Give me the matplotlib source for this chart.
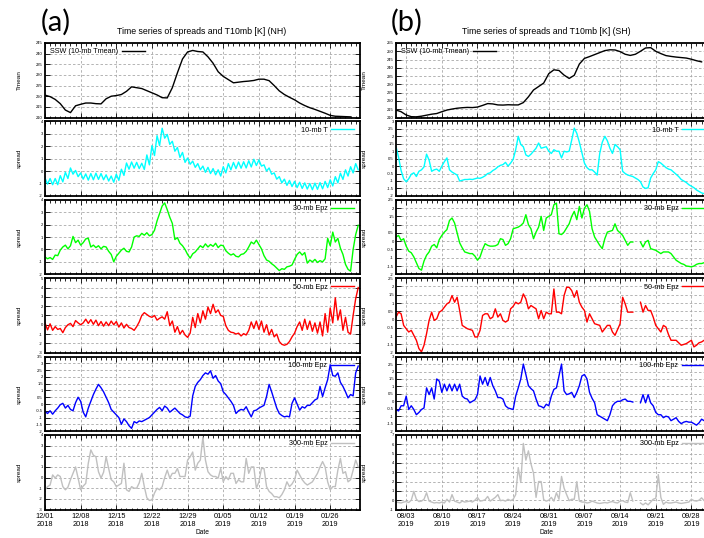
import numpy as np
import pandas as pd
import matplotlib
matplotlib.use("Agg")
import matplotlib.pyplot as plt
import matplotlib.dates as mdates
from matplotlib.ticker import MultipleLocator, FormatStrFormatter
from matplotlib.lines import Line2D

plt.rcParams['font.family'] = ['Liberation Sans', 'DejaVu Sans']

nan = np.nan
# ---------------- NH (left column), start 2018-12-01 ----------------
nh_tmean = [220.5, 219.8, 218.5, 216.5, 213.5, 212.3, 215.5, 216.2, 216.8, 216.8,
            216.5, 216.4, 218.8, 220.0, 220.3, 220.8, 222.3, 224.4, 224.0, 223.6,
            222.6, 221.6, 220.6, 219.3, 219.2, 224.0, 231.0, 237.5, 240.8, 241.5,
            241.0, 240.8, 238.5, 235.5, 231.5, 229.3, 227.8, 226.3, 226.6, 226.9,
            227.1, 227.4, 228.0, 228.0, 227.3, 225.0, 222.5, 220.8, 219.5, 218.3,
            216.8, 215.6, 214.6, 213.8, 212.9, 212.0, 211.0, 210.6, 210.5, 210.4, 210.3]

nh_t10 = [-0.55, -1.05, -0.6, -1.1, -0.6, -1.1, -0.37, -0.87, -0.1, -0.6,
          0.25, -0.25, 0.05, -0.45, -0.15, -0.65, -0.23, -0.73, -0.2, -0.7,
          -0.17, -0.67, -0.2, -0.7, -0.3, -0.8, -0.4, -0.9, -0.25, -0.75,
          0.15, -0.35, 0.65, 0.15, 0.73, 0.23, 0.7, 0.2, 0.63, 0.13,
          1.3, 0.5, 2.05, 1.25, 2.85, 2.05, 3.45, 2.65, 2.95, 2.15,
          2.4, 1.6, 1.9, 1.1, 1.5, 0.7, 1.05, 0.55, 0.8, 0.3,
          0.6, 0.1, 0.4, -0.1, 0.3, -0.2, 0.2, -0.3, 0.1, -0.4,
          0.35, -0.15, 0.6, 0.1, 0.7, 0.2, 0.73, 0.23, 0.75, 0.25,
          0.83, 0.33, 0.95, 0.45, 0.9, 0.4, 0.5, 0.0, 0.25, -0.25,
          -0.15, -0.65, -0.45, -0.95, -0.65, -1.15, -0.75, -1.25, -0.83, -1.33,
          -0.9, -1.4, -0.95, -1.45, -1.0, -1.5, -0.97, -1.47, -0.93, -1.43,
          -0.83, -1.33, -0.7, -1.2, -0.45, -0.95, -0.17, -0.67, 0.1, -0.4,
          0.35, -0.15, 0.6, 0.1]

nh_e30 = [-0.6, -0.75, -0.65, -0.8, -0.45, -0.5, -0.05, 0.2, 0.35, 0.05,
          0.3, 1.05, 0.55, 0.75, 0.35, 0.55, 0.85, 0.9, 0.2, 0.35,
          0.15, 0.3, 0.05, 0.25, 0.2, -0.15, -0.4, -1.0, -0.55, -0.3,
          -0.05, 0.1, -0.15, -0.2, 0.2, 1.0, 1.1, 1.05, 1.3, 1.15,
          1.35, 1.1, 1.2, 1.55, 2.3, 2.9, 3.5, 3.75, 3.2, 2.6,
          2.1, 0.8, 0.95, 0.5, 0.3, 0.0, -0.4, -0.7, -0.35, -0.2,
          0.05, 0.3, 0.15, 0.45, 0.2, 0.4, 0.25, 0.5, 0.15, 0.35,
          0.3, -0.1, -0.3, -0.45, -0.35, -0.55, -0.6, -0.4, -0.35, -0.15,
          0.2, 0.6, 0.45, 0.75, 0.4, 0.05, -0.5, -0.85, -0.95, -1.15,
          -1.3, -1.5, -1.7, -1.55, -1.6, -1.4, -1.35, -1.25, -0.8, -0.4,
          -0.2, -0.45, -0.25, -1.1, -0.85, -1.0, -0.8, -1.05, -0.9, -1.0,
          -0.75, 0.9, 0.3, 1.4, 0.6, 0.9, 0.1, -0.4, -1.2, -1.6,
          -1.75, 0.0, 1.2, 1.95]

nh_e50 = [0.2, -0.55, 0.1, -0.6, -0.2, -0.5, -0.4, -0.85, -0.3, 0.0,
          0.15, -0.2, 0.45, 0.2, 0.0, 0.2, 0.6, 0.15, 0.55, 0.05,
          0.5, -0.1, 0.35, -0.15, 0.3, -0.1, 0.4, 0.0, 0.35, -0.25,
          0.2, -0.35, 0.05, -0.3, -0.4, -0.6, -0.2, 0.3, 1.0, 1.3,
          1.1, 0.9, 0.8, 1.0, 0.5, 0.7, 0.85, 0.6, 1.4, -0.1,
          0.4, -0.8, -0.2, -1.0, -0.6, -1.1, -1.35, -0.9, 0.8, -0.3,
          1.2, 0.2, 1.5, 0.6, 1.9, 1.2, 2.2, 1.3, 1.6, 1.0,
          0.9, -0.1, -0.6, -0.8, -0.85, -1.0, -0.9, -1.2, -0.95, -1.1,
          -0.6, 0.3, -0.4, 0.4, -0.5, 0.4, -0.8, 0.0, -1.1, -0.5,
          -1.3, -1.0, -1.8, -2.1, -2.2, -2.1, -1.8, -1.3, -0.9, -0.2,
          0.3, -0.6, 0.6, -0.5, 0.4, -0.7, 0.2, -0.9, 0.3, -1.2,
          1.2, -0.8, 1.8, 0.2, 2.9, 0.5, 1.6, -0.6, 0.8, -0.8,
          -1.0, 1.0, 2.8, 4.0]

nh_e100 = [-0.55, -0.7, -0.5, -0.75, -0.5, -0.3, -0.05, 0.05, -0.3, -0.1,
           -0.4, -0.5, 0.1, 0.5, 0.2, -0.6, -0.95, -0.3, 0.2, 0.7,
           1.1, 1.45, 1.2, 0.9, 0.5, 0.1, -0.4, -0.6, -0.8, -1.0,
           -1.5, -1.1, -1.3, -1.6, -1.8, -1.3, -1.4, -1.25, -1.3, -1.2,
           -1.1, -1.0, -0.8, -0.6, -0.4, -0.25, -0.5, -0.15, -0.3, -0.6,
           -0.45, -0.3, -0.5, -0.7, -0.8, -0.95, -1.0, -0.9, 0.6, 1.3,
           1.6, 1.8, 2.1, 2.3, 2.2, 2.45, 1.9, 2.1, 1.7, 1.5,
           0.9, 0.7, 0.45, 0.2, -0.1, -0.7, -0.5, -0.4, -0.45, -0.2,
           -0.6, -0.95, -0.5, -0.45, -0.3, -0.2, -0.1, 0.55, 1.45, 0.9,
           0.3, -0.3, -0.7, -0.85, -0.95, -0.9, -0.95, 0.05, 0.45, 0.0,
           -0.45, -0.2, -0.3, -0.1, -0.1, 0.1, 0.3, 0.4, 1.3, 0.55,
           1.2, 1.8, 2.9, 2.1, 2.05, 2.3, 1.6, 1.3, 0.9, 0.45,
           0.7, 0.6, 2.3, 2.8]

nh_e300 = [-1.15, -0.85, -0.7, 0.25, -0.05, 0.25, 0.1, -0.85, -1.15, -0.9,
           -0.2, 0.4, 1.0, -0.05, -1.15, -0.8, -0.55, 1.35, 2.6, 2.1,
           1.95, 0.55, -0.05, 0.5, 1.95, 0.85, -0.2, -0.4, -0.85, -0.7,
           -0.55, 1.35, -1.15, -1.3, -0.85, -1.0, -1.0, -0.5, 0.4, -0.85,
           -1.9, -2.15, -2.1, -1.45, -1.0, -1.15, -0.85, 0.0, 0.7, -0.05,
           0.4, 0.4, 0.85, 0.1, 0.1, 0.1, 1.65, 1.95, 2.4, 0.7,
           1.35, 1.65, 3.8, 1.65, 0.55, 0.25, 0.1, 0.1, -0.05, 0.85,
           -0.4, 0.1, -0.2, 0.4, 0.4, -0.55, -0.2, -0.4, -0.4, 1.8,
           0.4, 1.0, 1.0, -1.0, -0.4, 0.85, 0.85, -0.85, -1.3, -1.5,
           -1.8, -1.8, -1.9, -1.6, -1.15, -0.4, -0.85, -0.6, -0.2, 0.7,
           0.25, -0.2, -0.5, -0.7, -0.55, -0.4, 0.0, 0.4, 1.0, 1.5,
           1.0, -0.4, -1.15, -0.85, -0.85, 0.7, 1.8, 0.4, 0.55, -0.4,
           -0.2, 0.7, 1.65, 1.0]

# ---------------- SH (right column), start 2019-08-01 ----------------
sh_tmean = [214.5, 213.5, 211.5, 210.5, 210.4, 210.8, 211.4, 212.0, 212.4, 213.5,
            214.5, 215.1, 215.6, 215.9, 216.1, 216.0, 216.3, 217.3, 218.4, 218.2,
            217.6, 217.5, 217.7, 217.6, 217.6, 219.0, 222.5, 226.6, 228.7, 230.8,
            236.5, 238.8, 238.4, 235.6, 233.6, 235.5, 242.3, 245.7, 246.8, 248.0,
            249.2, 250.4, 250.9, 250.8, 249.8, 248.2, 247.5, 248.2, 250.0, 252.0,
            252.2, 250.0, 248.6, 247.4, 246.9, 246.5, 246.2, 245.9, 245.2, 244.3, 243.6]

sh_t10 = [1.3, 0.6, -0.3, -0.85, -1.05, -0.85, -0.55, -0.45, -0.7, -0.35,
          -0.25, -0.05, 0.8, 0.4, -0.35, -0.25, -0.2, -0.35, 0.0, 0.3,
          0.55, -0.25, -0.4, -0.5, -0.6, -1.0, -0.95, -0.9, -0.9, -0.88,
          -0.9, -0.85, -0.8, -0.82, -0.75, -0.65, -0.5, -0.45, -0.3, -0.2,
          -0.05, 0.05, 0.1, 0.25, 0.0, 0.2, 0.45, 1.1, 2.0, 1.45,
          1.3, 0.75, 0.65, 0.8, 1.0, 1.2, 1.55, 1.2, 1.25, 1.3,
          1.0, 0.85, 1.1, 1.0, 1.0, 0.55, 1.0, 0.95, 1.0, 1.75,
          2.55, 2.2, 1.6, 0.9, 0.2, -0.1, -0.25, -0.25, -0.4, -0.6,
          0.85, 1.6, 2.0, 1.7, 1.2, 0.85, 1.45, 1.3, 1.1, -0.35,
          -0.5, -0.6, -0.65, -0.7, -0.8, -0.9, -1.05, -1.4, -1.5, -1.45,
          -0.8, -0.5, -0.25, 0.3, 0.2, 0.05, -0.1, -0.2, -0.25, -0.4,
          -0.55, -0.7, -0.9, -1.0, -1.1, -1.25, -1.35, -1.45, -1.6, -1.7,
          -1.8, -1.85]

sh_e30 = [0.25, 0.35, 0.05, 0.15, -0.3, -0.6, -0.7, -0.95, -1.3, -1.65,
          -1.75, -1.2, -0.85, -0.65, -0.3, -0.2, -0.4, 0.1, 0.35, 0.55,
          0.7, 1.25, 1.4, 1.1, 0.5, -0.1, -0.4, -0.65, -0.7, -0.75,
          -0.75, -0.9, -1.15, -0.95, -0.5, -0.15, -0.25, -0.3, -0.3, -0.28,
          -0.2, 0.15, 0.1, -0.25, -0.15, 0.15, 0.75, 0.8, 0.85, 0.95,
          1.1, 1.6, 1.0, 0.75, 0.15, 0.55, 0.85, 1.5, 0.65, 1.4,
          1.5, 1.6, 2.2, 2.3, 0.45, 0.4, 0.55, 0.8, 1.05, 1.5,
          1.8, 1.3, 2.1, 1.4, 2.0, 2.2, 1.8, 0.75, 0.25, 0.0,
          -0.25, -0.45, 0.15, 0.55, 0.6, 0.65, 1.05, 0.65, 0.5, 0.35,
          0.05, -0.25, -0.05, -0.05, nan, nan, -0.05, -0.35, -0.05, 0.05,
          -0.45, -0.5, -0.55, -0.65, -0.75, -0.65, -0.65, -0.65, -0.75, -0.95,
          -1.15, -1.25, -1.35, -1.4, -1.5, -1.52, -1.55, -1.5, -1.4, -1.35,
          -1.35, -1.3]

sh_e50 = [0.15, 0.45, 0.35, -0.35, -0.55, -0.75, -0.65, -0.95, -1.25, -1.75,
          -1.95, -1.55, -0.85, -0.05, 0.45, -0.05, 0.05, 0.45, 0.55, 0.75,
          0.95, 1.05, 1.45, 1.05, 1.35, 0.55, -0.35, -0.45, -0.55, -0.6,
          -0.65, -1.05, -1.05, -0.65, 0.25, 0.35, 0.35, 0.05, 0.15, 0.65,
          0.15, 0.35, -0.05, -0.15, -0.05, 0.65, 0.8, 1.05, 0.95, 1.05,
          1.55, 1.25, 0.65, 0.85, 0.75, 0.65, 0.05, 0.55, 0.05, 0.45,
          0.35, 0.35, 1.85, 0.45, 0.45, 0.35, 1.45, 1.95, 1.95, 1.75,
          1.35, 1.75, 1.05, 0.75, 0.55, -0.15, 0.35, 0.05, -0.25, -0.3,
          -0.35, -0.75, -0.55, -0.35, -0.35, -0.75, -0.95, -0.6, -0.25, 1.35,
          0.95, 0.45, 0.45, 0.45, nan, nan, 1.05, 0.45, 0.85, 0.55,
          0.55, 0.15, -0.35, -0.55, -0.75, -0.35, -0.45, -0.9, -1.25, -1.25,
          -1.25, -1.4, -1.55, -1.5, -1.45, -1.35, -1.25, -1.65, -1.55, -1.4,
          -1.35, -1.25]

sh_e100 = [-0.55, -0.65, -0.3, -0.3, 0.35, -0.55, -0.3, -0.55, -0.9, -0.75,
           -0.55, -0.45, 0.9, 0.45, 0.9, 0.15, 1.5, 1.35, 0.6, 1.15,
           0.7, 1.15, 0.7, 1.15, 0.7, 1.15, 0.35, 0.2, 0.15, -0.1,
           0.0, 0.1, 0.45, 1.7, 1.15, 1.6, 1.05, 1.6, 1.05, 0.7,
           0.25, 0.25, 0.15, -0.3, -0.45, -0.5, -0.55, 0.35, 0.9, 1.5,
           2.5, 1.8, 1.05, 0.85, 0.7, 0.15, -0.3, -0.35, -0.45, -0.2,
           -0.3, 0.35, 0.8, 0.9, 1.7, 2.5, 0.7, 0.45, 0.5, 0.6,
           0.25, 0.6, 1.05, 1.7, 1.8, 1.5, 0.6, 0.2, -0.1, -0.9,
           -1.0, -1.1, -1.2, -1.3, -0.9, -0.3, -0.1, 0.0, 0.0, 0.1,
           0.15, 0.0, 0.0, -0.05, nan, nan, -0.1, 0.45, -0.1, 0.45,
           -0.1, -0.3, -0.75, -0.9, -0.9, -1.1, -1.0, -1.05, -1.3, -1.2,
           -1.1, -1.35, -1.5, -1.4, -1.35, -1.4, -1.4, -1.5, -1.6, -1.45,
           -1.2, -1.3]

sh_e300 = [-0.2, -0.25, -0.3, -0.2, -0.15, -0.25, 0.0, 0.95, 0.1, -0.15,
           -0.1, 0.1, 0.8, -0.1, -0.2, -0.3, -0.25, -0.3, -0.2, -0.3,
           0.1, -0.2, 0.6, -0.1, -0.2, -0.3, -0.1, -0.2, -0.15, -0.1,
           -0.2, 0.0, 0.3, -0.1, -0.05, 0.05, 0.4, -0.1, 0.1, 0.3,
           0.6, -0.05, 0.0, -0.1, 0.1, -0.05, 0.1, 0.6, 3.5, 1.9,
           6.1, 4.3, 5.3, 3.9, 2.9, 0.3, 2.0, 2.0, 0.05, -0.1,
           0.0, 0.3, -0.1, 0.8, 0.1, 2.55, 1.3, 0.6, -0.05, 0.1,
           0.1, 2.0, -0.1, -0.2, -0.2, -0.3, -0.25, -0.1, -0.2, -0.3,
           -0.35, -0.3, -0.25, -0.3, -0.2, -0.15, -0.25, -0.3, -0.1, -0.05,
           -0.2, -0.25, 0.8, -0.1, nan, nan, -0.3, -0.5, -0.3, -0.5,
           -0.2, 0.1, 0.2, 2.75, 0.3, -0.45, -0.2, -0.3, -0.3, -0.25,
           -0.2, -0.3, -0.35, -0.3, -0.25, -0.2, 0.1, -0.05, -0.1, 0.0,
           0.25, -0.05]

# ---------------- panel definitions ----------------
nh_series = [nh_tmean, nh_t10, nh_e30, nh_e50, nh_e100, nh_e300]
sh_series = [sh_tmean, sh_t10, sh_e30, sh_e50, sh_e100, sh_e300]
labels = ['SSW (10-mb Tmean)', '10-mb T', '30-mb Epz', '50-mb Epz', '100-mb Epz', '300-mb Epz']
colors = ['black', '#00ffff', '#00ff00', '#ff0000', '#0000ff', '#c0c0c0']
ylabels = ['Tmean', 'spread', 'spread', 'spread', 'spread', 'spread']
nh_ylims = [(210, 245), (-2, 4), (-2, 4), (-3, 5), (-2, 3.5), (-3, 4)]
nh_ysteps = [5, 1, 1, 1, 0.5, 1]
sh_ylims = [(210, 255), (-2, 3), (-2, 2.5), (-2, 2.5), (-2, 3), (-1, 7)]
sh_ysteps = [5, 0.5, 0.5, 0.5, 0.5, 1]

columns = [
    dict(start='2018-12-01', first_tick='2018-12-01', series=nh_series, ylims=nh_ylims,
         ysteps=nh_ysteps, left=45, title='Time series of spreads and T10mb [K] (NH)',
         tag='(a)', title_x=202, tag_x=41, ylab_x=-0.073),
    dict(start='2019-08-01', first_tick='2019-08-03', series=sh_series, ylims=sh_ylims,
         ysteps=sh_ysteps, left=396, title='Time series of spreads and T10mb [K] (SH)',
         tag='(b)', title_x=546, tag_x=391, ylab_x=-0.092),
]

W, H = 704, 538
fig = plt.figure(figsize=(W / 100, H / 100), dpi=100)
ax_w, ax_h, top0, pitch = 314.5, 74.5, 43, 78.4

for col in columns:
    t0 = pd.Timestamp(col['start'])
    t1 = t0 + pd.Timedelta(days=61.75)
    for r in range(6):
        top = top0 + r * pitch
        ax = fig.add_axes([col['left'] / W, 1 - (top + ax_h) / H, ax_w / W, ax_h / H])
        vals = np.array(col['series'][r], dtype=float)
        if r == 0:
            tt = pd.date_range(t0, periods=len(vals), freq='D')
        else:
            tt = pd.date_range(t0, periods=len(vals), freq='12h')
        ax.plot(tt, vals, color=colors[r], lw=1.0)
        ax.set_xlim(t0, t1)
        ax.set_ylim(*col['ylims'][r])
        ax.yaxis.set_major_locator(MultipleLocator(col['ysteps'][r]))
        ax.yaxis.set_major_formatter(FormatStrFormatter('%g'))
        ticks = pd.date_range(col['first_tick'], t1, freq='7D')
        ax.set_xticks(ticks)
        ax.xaxis.set_minor_locator(mdates.DayLocator())
        if r == 5:
            ax.xaxis.set_major_formatter(mdates.DateFormatter('%m/%d\n%Y'))
        else:
            ax.set_xticklabels([])
        ax.grid(True, which='major', color='#a8a8a8', ls=(0, (3, 2.5)), lw=0.6)
        ax.tick_params(which='both', direction='in', top=True, right=True,
                       width=0.6, color='black')
        ax.tick_params(which='major', length=3.5)
        ax.tick_params(which='minor', length=1.8)
        ax.tick_params(axis='y', labelsize=3.0, pad=1.5)
        ax.tick_params(axis='x', labelsize=5.3, pad=2.5)
        for s in ax.spines.values():
            s.set_linewidth(1.3)
        ax.set_ylabel(ylabels[r], fontsize=4.6)
        ax.yaxis.set_label_coords(col['ylab_x'], 0.5)
        handle = Line2D([], [], color=colors[r], lw=1.0)
        ax.legend([handle], [labels[r]], loc='upper left' if r == 0 else 'upper right',
                  frameon=False, markerfirst=False, fontsize=5.2, handlelength=3.2,
                  handletextpad=0.5, borderaxespad=0.45, borderpad=0.3)
    fig.text(col['title_x'] / W, 1 - 32 / H, col['title'], ha='center', va='center', fontsize=6.3)
    fig.text(col['tag_x'] / W, 1 - 22 / H, col['tag'], ha='left', va='center', fontsize=21,
             family=['Lato', 'DejaVu Sans'])
    fig.text(col['title_x'] / W, 1 - 532 / H, 'Date', ha='center', va='center', fontsize=4.8)

fig.savefig('out.png', dpi=100)
